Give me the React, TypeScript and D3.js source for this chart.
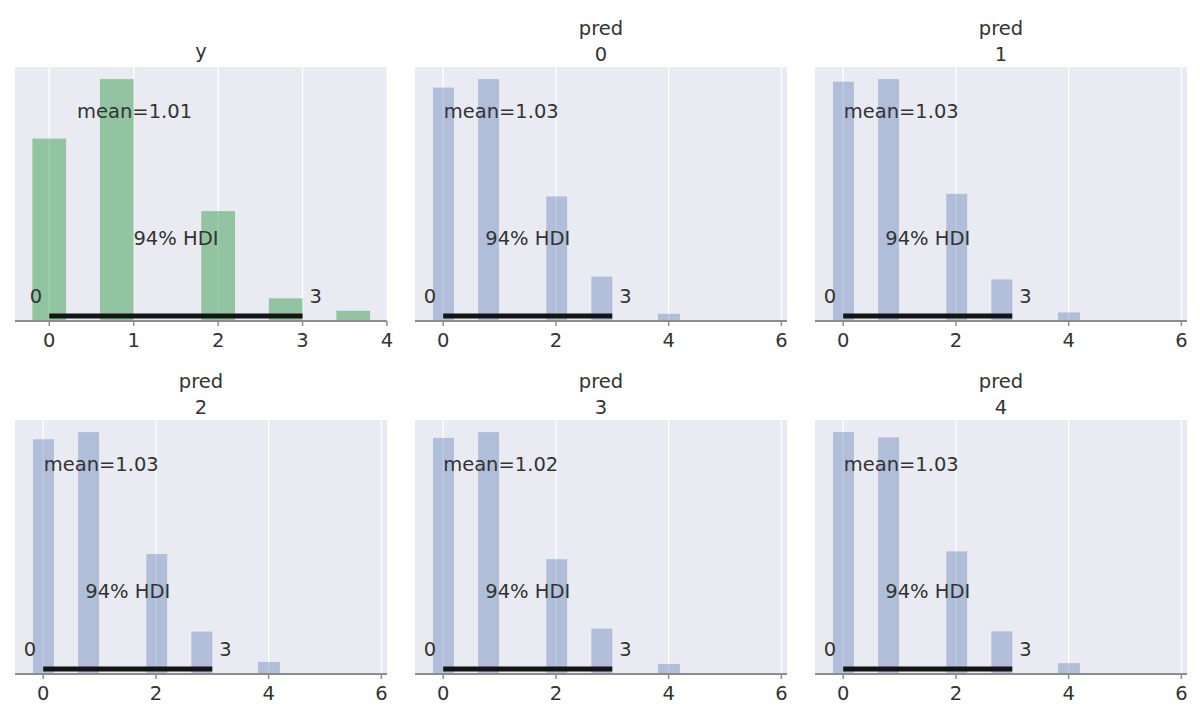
import React from "react";
import * as d3 from "d3";

// ---- data ----
const PANEL_TITLES: string[][] = [["y"], ["pred", "0"], ["pred", "1"], ["pred", "2"], ["pred", "3"], ["pred", "4"]];

const OBS_BIN_LO = [-0.2, 0.6, 1.8, 2.6, 3.4];
const OBS_BIN_HI = [0.2, 1.0, 2.2, 3.0, 3.8];
const OBS_FREQ = [32.2, 42.7, 19.4, 4.0, 1.8];

const PRED_BIN_LO = [-0.18, 0.62, 1.83, 2.63, 3.81, 4.62];
const PRED_BIN_HI = [0.19, 0.99, 2.2, 3.0, 4.2, 5.0];
const PRED_0 = [35.8, 37.1, 19.1, 6.8, 1.1, 0.15];
const PRED_1 = [36.3, 36.7, 19.3, 6.3, 1.3, 0.15];
const PRED_2 = [36.0, 37.1, 18.4, 6.5, 1.85, 0.15];
const PRED_3 = [36.4, 37.3, 17.7, 7.0, 1.55, 0.15];
const PRED_4 = [36.9, 36.1, 18.7, 6.5, 1.65, 0.15];

const MEANS = [1.01, 1.03, 1.03, 1.03, 1.02, 1.03];
const HDI_LOW = [0, 0, 0, 0, 0, 0];
const HDI_HIGH = [3, 3, 3, 3, 3, 3];

const OBS_TICKS = [0, 1, 2, 3, 4];
const PRED_TICKS = [0, 2, 4, 6];
const OBS_DOMAIN = [-0.406, 4.0];
const PRED_DOMAIN = [-0.5, 6.1];

// ---- layout ----
const W = 1200;
const H = 714;
const COL_X = [15, 415, 815];
const ROW_Y = [67, 420];
const PW = 372;
const PH = 254;
const FONT = "'DejaVu Sans', Verdana, sans-serif";
const FS = 19.5;
const TEXT = "#333333";

type PanelData = {
  title: string[];
  lo: number[];
  hi: number[];
  freq: number[];
  ticks: number[];
  domain: number[];
  mean: number;
  hdiLo: number;
  hdiHi: number;
  color: string;
  opacity: number;
};

const panels: PanelData[] = [
  { title: PANEL_TITLES[0], lo: OBS_BIN_LO, hi: OBS_BIN_HI, freq: OBS_FREQ, ticks: OBS_TICKS, domain: OBS_DOMAIN, mean: MEANS[0], hdiLo: HDI_LOW[0], hdiHi: HDI_HIGH[0], color: "#55A868", opacity: 0.58 },
  ...[PRED_0, PRED_1, PRED_2, PRED_3, PRED_4].map((f, i) => ({
    title: PANEL_TITLES[i + 1], lo: PRED_BIN_LO, hi: PRED_BIN_HI, freq: f, ticks: PRED_TICKS, domain: PRED_DOMAIN,
    mean: MEANS[i + 1], hdiLo: HDI_LOW[i + 1], hdiHi: HDI_HIGH[i + 1], color: "#4C72B0", opacity: 0.37,
  })),
];

function Panel({ p, x0, y0 }: { p: PanelData; x0: number; y0: number }) {
  const x = d3.scaleLinear().domain(p.domain).range([x0, x0 + PW]);
  const maxF = d3.max(p.freq) as number;
  const y = d3.scaleLinear().domain([0, maxF * 1.05]).range([y0 + PH, y0]);
  const yAt = (frac: number) => y0 + PH - frac * PH;
  const cx = x0 + PW / 2;
  return (
    <g>
      <rect x={x0} y={y0} width={PW} height={PH} fill="#EAEAF2" />
      {p.ticks.map((t) => (
        <line key={"g" + t} x1={x(t)} x2={x(t)} y1={y0} y2={y0 + PH} stroke="#ffffff" strokeWidth={1.3} />
      ))}
      {p.freq.map((f, i) => (
        <rect key={"b" + i} x={x(p.lo[i])} width={x(p.hi[i]) - x(p.lo[i])} y={y(f)} height={y(0) - y(f)} fill={p.color} fillOpacity={p.opacity} />
      ))}
      <line x1={x(p.hdiLo)} x2={x(p.hdiHi)} y1={yAt(0.02)} y2={yAt(0.02)} stroke="#141414" strokeWidth={5} />
      <text x={x(p.mean)} y={yAt(0.8)} textAnchor="middle" fontFamily={FONT} fontSize={FS} fill={TEXT}>
        {"mean=" + d3.format(".2f")(p.mean)}
      </text>
      <text x={x((p.hdiLo + p.hdiHi) / 2)} y={yAt(0.3)} textAnchor="middle" fontFamily={FONT} fontSize={FS} fill={TEXT}>
        94% HDI
      </text>
      <text x={x(p.hdiLo) - 7} y={yAt(0.07)} textAnchor="end" fontFamily={FONT} fontSize={FS} fill={TEXT}>
        {d3.format("d")(p.hdiLo)}
      </text>
      <text x={x(p.hdiHi) + 7} y={yAt(0.07)} textAnchor="start" fontFamily={FONT} fontSize={FS} fill={TEXT}>
        {d3.format("d")(p.hdiHi)}
      </text>
      <line x1={x0} x2={x0 + PW} y1={y0 + PH} y2={y0 + PH} stroke="#8c8c8c" strokeWidth={2} />
      {p.ticks.map((t) => (
        <g key={"t" + t}>
          <line x1={x(t)} x2={x(t)} y1={y0 + PH} y2={y0 + PH + 5} stroke="#8c8c8c" strokeWidth={1.5} />
          <text x={x(t)} y={y0 + PH + 26} textAnchor="middle" fontFamily={FONT} fontSize={FS} fill={TEXT}>
            {t}
          </text>
        </g>
      ))}
      {p.title.length === 1 ? (
        <text x={cx} y={y0 - 9.5} textAnchor="middle" fontFamily={FONT} fontSize={FS} fill={TEXT}>
          {p.title[0]}
        </text>
      ) : (
        <g>
          <text x={cx} y={y0 - 32} textAnchor="middle" fontFamily={FONT} fontSize={FS} fill={TEXT}>
            {p.title[0]}
          </text>
          <text x={cx} y={y0 - 6} textAnchor="middle" fontFamily={FONT} fontSize={FS} fill={TEXT}>
            {p.title[1]}
          </text>
        </g>
      )}
    </g>
  );
}

export default function App() {
  return (
    <svg width={W} height={H} style={{ position: "absolute", left: 0, top: 0, background: "#ffffff" }}>
      <rect x={0} y={0} width={W} height={H} fill="#ffffff" />
      {panels.map((p, i) => (
        <Panel key={i} p={p} x0={COL_X[i % 3]} y0={ROW_Y[Math.floor(i / 3)]} />
      ))}
    </svg>
  );
}
